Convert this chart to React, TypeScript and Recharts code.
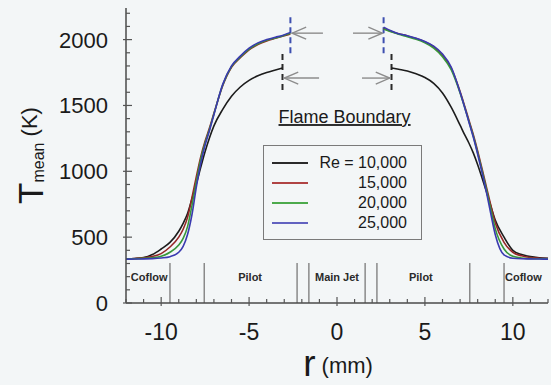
import React from "react";
import {
  LineChart,
  Line,
  XAxis,
  YAxis,
  ReferenceLine,
  ReferenceDot,
  Legend,
} from "recharts";

const FONT = "'Liberation Sans', Arial, Helvetica, sans-serif";

// radial positions (mm); 0 is only a gap marker (no data across the jet core)
const rPoints = [
  -12, -11.5, -11, -10.5, -10, -9.5, -9, -8.75, -8.5, -8.25, -8, -7.75, -7.5, -7.25, -7,
  -6.5, -6, -5.5, -5, -4.5, -4, -3.5, -3.1, -2.65,
  0,
  2.65, 3.1, 3.5, 4, 4.5, 5, 5.5, 6, 6.5, 7, 7.25, 7.5, 7.75, 8, 8.25, 8.5, 8.75, 9, 9.5,
  10, 10.5, 11, 11.5, 12,
];

// mean temperature (K)
const re10000 = [
  335, 338, 345, 368, 410, 460, 545, 605, 680, 790, 905, 1030, 1150, 1255, 1345,
  1470, 1570, 1640, 1690, 1725, 1750, 1770, 1785, null,
  null,
  null, 1785, 1775, 1762, 1740, 1712, 1668, 1595, 1485, 1350, 1280, 1215, 1140, 1050, 950,
  845, 735, 630, 500, 400, 368, 352, 344, 340,
];
const re15000 = [
  336, 338, 343, 353, 375, 425, 500, 560, 650, 800, 960, 1110, 1230, 1330, 1440,
  1650, 1790, 1862, 1922, 1962, 1990, 2010, 2025, 2042,
  null,
  2085, 2062, 2045, 2028, 2008, 1982, 1945, 1882, 1782, 1605, 1500, 1390, 1280, 1155, 1020,
  880, 740, 610, 460, 385, 358, 345, 340, 338,
];
const re20000 = [
  335, 336, 339, 344, 355, 385, 440, 490, 580, 740, 920, 1090, 1215, 1320, 1435,
  1655, 1795, 1868, 1928, 1968, 1995, 2013, 2028, 2048,
  null,
  2080, 2058, 2040, 2022, 2002, 1975, 1935, 1870, 1770, 1595, 1490, 1380, 1268, 1140, 1005,
  860, 710, 565, 410, 355, 342, 337, 336, 335,
];
const re25000 = [
  333, 334, 335, 337, 342, 352, 385, 430, 520, 670, 880, 1060, 1200, 1310, 1430,
  1660, 1800, 1875, 1935, 1975, 2000, 2018, 2032, 2055,
  null,
  2095, 2065, 2045, 2030, 2010, 1985, 1950, 1890, 1790, 1600, 1490, 1375, 1260, 1130, 990,
  840, 675, 520, 365, 340, 336, 335, 334, 333,
];

const seriesKeys = ["re10000", "re15000", "re20000", "re25000"];
const seriesNames = ["Re = 10,000", "15,000", "20,000", "25,000"];
const lineColors = ["#1c1c1c", "#942626", "#38983a", "#3a3ab0"];
const legendColors = ["#2a2a2a", "#b04444", "#4caa4c", "#6262c0"];

const xTicks = [-12, -11, -10, -9, -8, -7, -6, -5, -4, -3, -2, -1, 0, 1, 2, 3, 4, 5, 6, 7, 8, 9, 10, 11, 12];
const xMajor = [-10, -5, 0, 5, 10];
const yTicks = [
  0, 100, 200, 300, 400, 500, 600, 700, 800, 900, 1000, 1100, 1200, 1300, 1400, 1500,
  1600, 1700, 1800, 1900, 2000, 2100, 2200,
];
const yMajor = [0, 500, 1000, 1500, 2000];

// nozzle region boundaries (mm) and labels
const regionBounds = [-9.5, -7.55, -2.27, -1.6, 1.6, 2.27, 7.55, 9.5];
const regionTop = 304;
const regionLabels = ["Coflow", "Pilot", "Main Jet", "Pilot", "Coflow"];
const regionLabelR = [-10.68, -4.94, 0, 4.77, 10.6];
const regionLabelT = 197;

// flame boundary markers
const blueBoundaryR = [-2.65, 2.65];
const blueBoundaryT = [1897, 2201];
const blackBoundaryR = [-3.1, 3.1];
const blackBoundaryT = [1617, 1905];
const arrowFrom = [-0.8, 0.91, -1.02, 1.42];
const arrowTo = [-2.55, 2.58, -3.0, 3.0];
const arrowT = [2049, 2049, 1708, 1708];

const rows = rPoints.map((r, i) => ({
  r,
  re10000: re10000[i],
  re15000: re15000[i],
  re20000: re20000[i],
  re25000: re25000[i],
}));

const TICK = "#555";

function BottomTick(p: any) {
  const v = p.payload.value;
  const major = xMajor.includes(v);
  return (
    <g>
      <line x1={p.x} x2={p.x} y1={major ? p.y + 3 : p.y} y2={p.y - (major ? 6 : 4)} stroke={TICK} strokeWidth={1.2} />
      {major && (
        <text x={p.x} y={p.y + 37} textAnchor="middle" fontSize={23} fill="#1a1a1a" fontFamily={FONT}>
          {v}
        </text>
      )}
    </g>
  );
}

function TopTick(p: any) {
  const major = xMajor.includes(p.payload.value);
  return <line x1={p.x} x2={p.x} y1={p.y} y2={p.y + (major ? 6 : 4)} stroke={TICK} strokeWidth={1.2} />;
}

function LeftTick(p: any) {
  const v = p.payload.value;
  const major = yMajor.includes(v);
  return (
    <g>
      <line y1={p.y} y2={p.y} x1={major ? p.x - 3 : p.x} x2={p.x + (major ? 6 : 4)} stroke={TICK} strokeWidth={1.2} />
      {major && (
        <text x={p.x - 18} y={p.y + 8} textAnchor="end" fontSize={22} fill="#1a1a1a" fontFamily={FONT}>
          {v}
        </text>
      )}
    </g>
  );
}

function RightTick(p: any) {
  const major = yMajor.includes(p.payload.value);
  return <line y1={p.y} y2={p.y} x1={p.x} x2={p.x - (major ? 6 : 4)} stroke={TICK} strokeWidth={1.2} />;
}

function YTitle(p: any) {
  const vb = p.viewBox;
  const cx = vb.x + 30;
  const cy = vb.y + vb.height / 2;
  return (
    <text
      x={cx}
      y={cy + 13}
      transform={`rotate(-90 ${cx} ${cy})`}
      textAnchor="middle"
      fill="#1a1a1a"
      fontFamily={FONT}
    >
      <tspan fontSize={35}>T</tspan>
      <tspan fontSize={16} dy={1}>mean</tspan>
      <tspan fontSize={22} dy={-7}> (K)</tspan>
    </text>
  );
}

function XTitle(p: any) {
  const vb = p.viewBox;
  const cx = vb.x + vb.width / 2 + 1;
  return (
    <text x={cx} y={376} textAnchor="middle" fill="#1a1a1a" fontFamily={FONT}>
      <tspan fontSize={37}>r</tspan>
      <tspan fontSize={22} dy={-3}> (mm)</tspan>
    </text>
  );
}

function Arrow(p: any) {
  const { x1, y1, x2, y2 } = p;
  const dir = x2 > x1 ? 1 : -1;
  return (
    <g stroke="#8c8c8c" strokeWidth={1.4} fill="none">
      <line x1={x1} y1={y1} x2={x2} y2={y2} />
      <polyline points={`${x2 - dir * 14},${y2 - 6} ${x2},${y2} ${x2 - dir * 14},${y2 + 6}`} />
    </g>
  );
}

function LegendBox() {
  return (
    <div
      style={{
        width: 159,
        height: 95,
        boxSizing: "border-box",
        border: "1.5px solid #7a7a7a",
        paddingTop: 7,
        fontFamily: FONT,
        fontSize: 16,
        color: "#1a1a1a",
      }}
    >
      {seriesNames.map((n, i) => (
        <div key={n} style={{ position: "relative", height: 20 }}>
          <div
            style={{
              position: "absolute",
              left: 8,
              top: 9,
              width: 36,
              height: 2,
              background: legendColors[i],
            }}
          />
          <div style={{ position: "absolute", right: 14, top: 1, lineHeight: "18px" }}>{n}</div>
        </div>
      ))}
    </div>
  );
}

export default function App() {
  return (
    <div
      style={{
        position: "absolute",
        left: 0,
        top: 0,
        width: 551,
        height: 385,
        background: "#f3f6f7",
      }}
    >
      <LineChart width={551} height={385} data={rows} margin={{ top: 8, right: 3, left: 0, bottom: 0 }}>
        <XAxis
          dataKey="r"
          type="number"
          domain={[-12, 12]}
          ticks={xTicks}
          interval={0}
          allowDataOverflow
          height={82}
          tickSize={0}
          tickMargin={0}
          tickLine={false}
          tick={BottomTick}
          axisLine={{ stroke: "#4a4a4a", strokeWidth: 1.5 }}
          label={{ content: XTitle }}
        />
        <XAxis
          xAxisId="top"
          orientation="top"
          dataKey="r"
          type="number"
          domain={[-12, 12]}
          ticks={xTicks}
          interval={0}
          allowDataOverflow
          height={0}
          tickSize={0}
          tickMargin={0}
          tickLine={false}
          tick={TopTick}
          axisLine={{ stroke: "#4a4a4a", strokeWidth: 1.5 }}
        />
        <YAxis
          type="number"
          domain={[0, 2240]}
          ticks={yTicks}
          interval={0}
          allowDataOverflow
          width={126}
          tickSize={0}
          tickMargin={0}
          tickLine={false}
          tick={LeftTick}
          axisLine={{ stroke: "#4a4a4a", strokeWidth: 1.5 }}
          label={{ content: YTitle }}
        />
        <YAxis
          yAxisId="right"
          orientation="right"
          type="number"
          domain={[0, 2240]}
          ticks={yTicks}
          interval={0}
          allowDataOverflow
          width={0}
          tickSize={0}
          tickMargin={0}
          tickLine={false}
          tick={RightTick}
          axisLine={{ stroke: "#4a4a4a", strokeWidth: 1.5 }}
        />

        {regionBounds.map((r) => (
          <ReferenceLine
            key={`rb${r}`}
            segment={[
              { x: r, y: 0 },
              { x: r, y: regionTop },
            ]}
            stroke="#8a8a8a"
            strokeWidth={1.5}
          />
        ))}
        {regionLabels.map((t, i) => (
          <ReferenceDot
            key={`rl${i}`}
            x={regionLabelR[i]}
            y={regionLabelT}
            r={1}
            shape={(p: any) => (
              <text
                x={p.cx}
                y={p.cy + 4}
                textAnchor="middle"
                fontSize={11}
                fontWeight="bold"
                fill="#2a2a2a"
                fontFamily={FONT}
              >
                {t}
              </text>
            )}
          />
        ))}

        {blueBoundaryR.map((r) => (
          <ReferenceLine
            key={`bb${r}`}
            segment={[
              { x: r, y: blueBoundaryT[0] },
              { x: r, y: blueBoundaryT[1] },
            ]}
            stroke="#3d4fb0"
            strokeWidth={2}
            strokeDasharray="6 4"
          />
        ))}
        {blackBoundaryR.map((r) => (
          <ReferenceLine
            key={`kb${r}`}
            segment={[
              { x: r, y: blackBoundaryT[0] },
              { x: r, y: blackBoundaryT[1] },
            ]}
            stroke="#2a2a2a"
            strokeWidth={2}
            strokeDasharray="6 4"
          />
        ))}
        {arrowFrom.map((r, i) => (
          <ReferenceLine
            key={`ar${i}`}
            segment={[
              { x: r, y: arrowT[i] },
              { x: arrowTo[i], y: arrowT[i] },
            ]}
            shape={Arrow}
          />
        ))}

        <ReferenceDot
          x={0.43}
          y={1366}
          r={1}
          shape={(p: any) => (
            <text
              x={p.cx}
              y={p.cy}
              textAnchor="middle"
              fontSize={18}
              fill="#1a1a1a"
              fontFamily={FONT}
              textDecoration="underline"
            >
              Flame Boundary
            </text>
          )}
        />

        {seriesKeys.map((k, i) => (
          <Line
            key={k}
            dataKey={k}
            name={seriesNames[i]}
            stroke={lineColors[i]}
            strokeWidth={1.6}
            type="monotone"
            dot={false}
            connectNulls={false}
            isAnimationActive={false}
          />
        ))}

        <Legend
          layout="vertical"
          align="center"
          verticalAlign="middle"
          content={() => <LegendBox />}
          wrapperStyle={{ left: 263, top: 145, width: 159, height: 95 }}
        />
      </LineChart>
    </div>
  );
}
